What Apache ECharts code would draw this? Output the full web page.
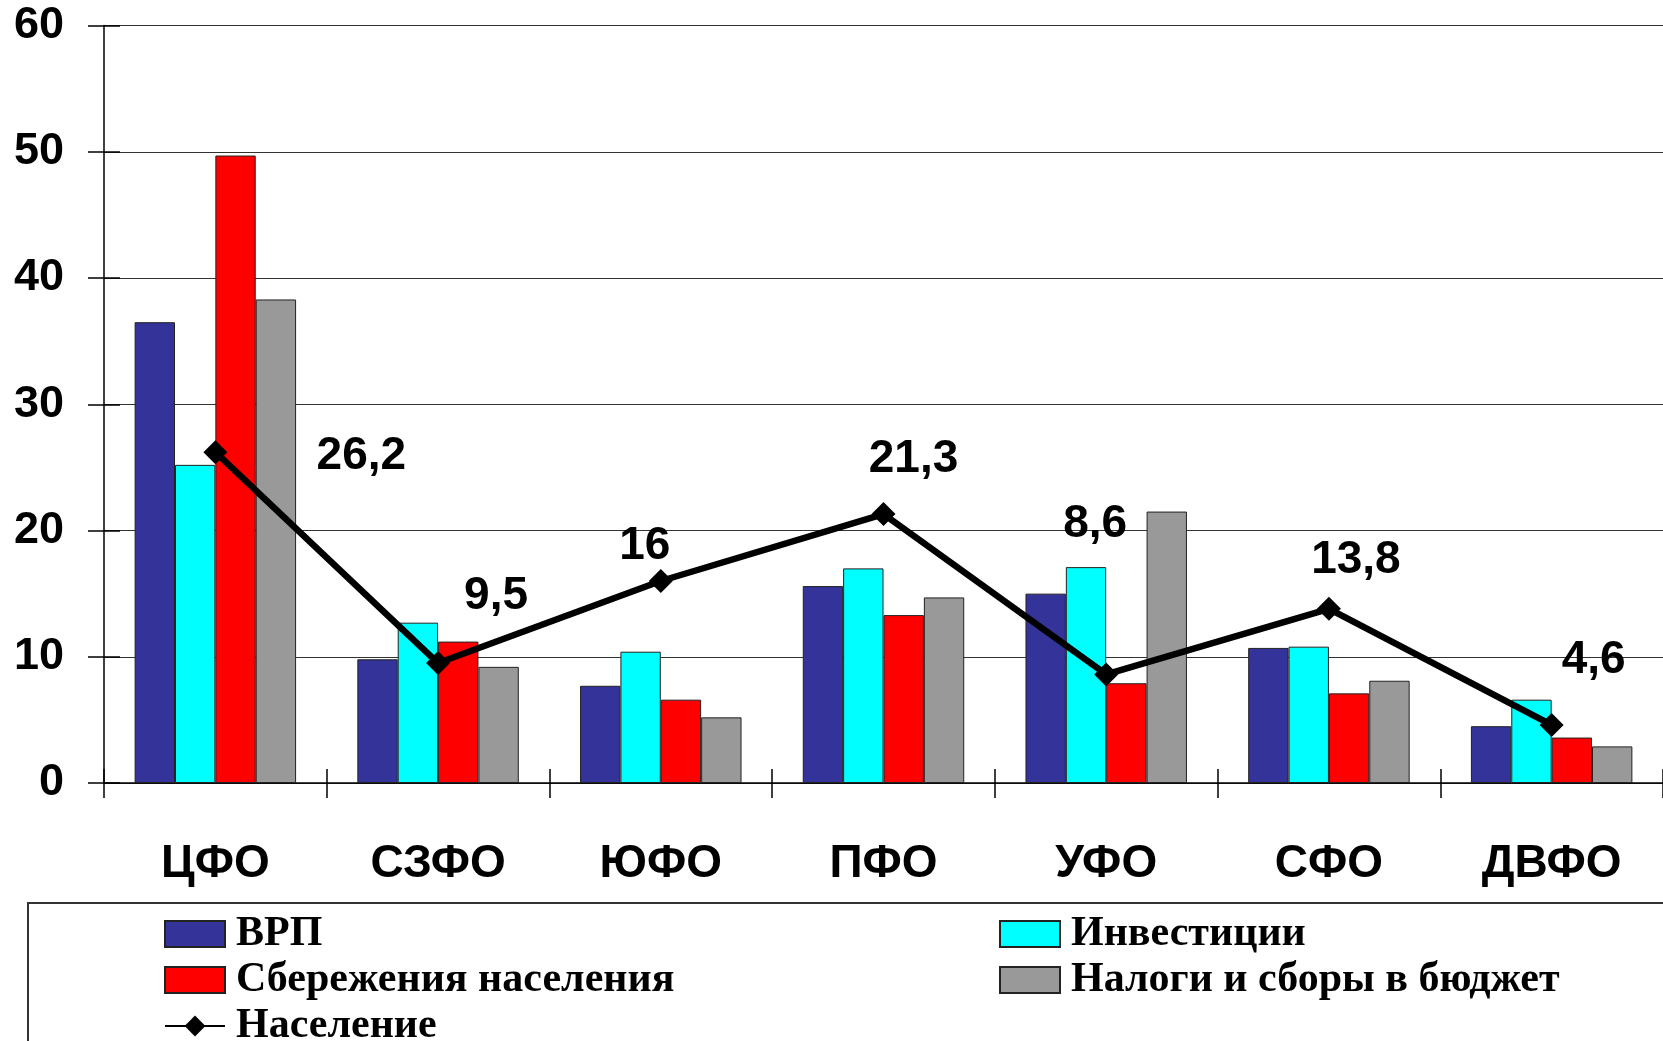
<!DOCTYPE html>
<html>
<head>
<meta charset="utf-8">
<script src="https://cdn.jsdelivr.net/npm/echarts@6/dist/echarts.min.js"></script>
<style>
  html, body { margin: 0; padding: 0; background: #fff; }
  #main { width: 1663px; height: 1041px; }
</style>
</head>
<body>
<div id="main"></div>
<script>
var districts = ['ЦФО', 'СЗФО', 'ЮФО', 'ПФО', 'УФО', 'СФО', 'ДВФО'];
var vrp = [36.5, 9.8, 7.7, 15.6, 15.0, 10.7, 4.5];
var invest = [25.2, 12.7, 10.4, 17.0, 17.1, 10.8, 6.6];
var savings = [49.7, 11.2, 6.6, 13.3, 7.9, 7.1, 3.6];
var taxes = [38.3, 9.2, 5.2, 14.7, 21.5, 8.1, 2.9];
var population = [26.2, 9.5, 16, 21.3, 8.6, 13.8, 4.6];
var yTicks = [0, 10, 20, 30, 40, 50, 60];

// where each population label sits relative to its point
var labelShift = [[146, 4], [58, -67], [-16, -35], [30, -55], [-11, -150], [27, -48], [42, -65]];

var dom = document.getElementById('main');
var myChart = echarts.init(dom);

var barBorder = { borderColor: '#222', borderWidth: 1 };

function barSeries(name, data, color) {
    return {
        name: name,
        type: 'bar',
        data: data,
        barGap: '0%',
        barCategoryGap: '27.5%',
        itemStyle: Object.assign({ color: color }, barBorder)
    };
}

var popData = population.map(function (v, i) {
    return {
        value: v,
        label: { offset: labelShift[i] }
    };
});

var legendText = {
    fontFamily: 'Liberation Serif',
    fontWeight: 'bold',
    fontSize: 42,
    lineHeight: 40,
    color: '#000',
    padding: [0, 0, 0, 6]
};

var option = {
    animation: false,
    backgroundColor: '#fff',
    grid: {
        left: 104,
        top: 25.5,
        width: 1568,
        height: 757.5
    },
    legend: [{
        orient: 'vertical',
        left: 164,
        top: 913,
        height: 300,
        padding: 0,
        itemWidth: 60,
        itemHeight: 26,
        itemGap: 4,
        data: [
            { name: 'ВРП', icon: 'rect' },
            { name: 'Сбережения населения', icon: 'rect' },
            'Население'
        ],
        textStyle: legendText
    }, {
        orient: 'vertical',
        left: 999,
        top: 913,
        height: 300,
        padding: 0,
        itemWidth: 60,
        itemHeight: 26,
        itemGap: 4,
        data: [
            { name: 'Инвестиции', icon: 'rect' },
            { name: 'Налоги и сборы в бюджет', icon: 'rect' }
        ],
        textStyle: legendText
    }],
    graphic: [{
        type: 'rect',
        shape: { x: 28, y: 903, width: 1700, height: 200 },
        style: { fill: 'none', stroke: '#333', lineWidth: 2 },
        silent: true
    }],
    xAxis: [{
        type: 'category',
        data: districts,
        axisLine: { lineStyle: { color: '#000', width: 1.5 } },
        axisTick: { show: true, length: 15, lineStyle: { color: '#000', width: 1.5 } },
        axisLabel: {
            margin: 58,
            fontFamily: 'Liberation Sans',
            fontWeight: 'bold',
            fontSize: 46,
            color: '#000'
        }
    }, {
        type: 'category',
        data: districts,
        position: 'bottom',
        axisLine: { show: false },
        axisTick: { show: true, inside: true, length: 14, lineStyle: { color: '#000', width: 1.5 } },
        axisLabel: { show: false }
    }],
    yAxis: [{
        type: 'value',
        min: yTicks[0],
        max: yTicks[yTicks.length - 1],
        interval: 10,
        axisLine: { show: true, lineStyle: { color: '#000', width: 1.5 } },
        axisTick: { show: true, length: 16, lineStyle: { color: '#000', width: 1.5 } },
        splitLine: { lineStyle: { color: '#333', width: 1.2 } },
        axisLabel: {
            margin: 40,
            fontFamily: 'Liberation Sans',
            fontWeight: 'bold',
            fontSize: 45,
            color: '#000'
        }
    }, {
        type: 'value',
        position: 'left',
        min: yTicks[0],
        max: yTicks[yTicks.length - 1],
        interval: 10,
        axisLine: { show: false },
        axisTick: { show: true, inside: true, length: 16, lineStyle: { color: '#000', width: 1.5 } },
        splitLine: { show: false },
        axisLabel: { show: false }
    }],
    series: [
        barSeries('ВРП', vrp, '#333399'),
        barSeries('Инвестиции', invest, '#00FFFF'),
        barSeries('Сбережения населения', savings, '#FF0000'),
        barSeries('Налоги и сборы в бюджет', taxes, '#999999'),
        {
            name: 'Население',
            type: 'line',
            data: popData,
            z: 5,
            symbol: 'diamond',
            symbolSize: 24,
            itemStyle: { color: '#000' },
            lineStyle: { color: '#000', width: 6.5 },
            label: {
                show: true,
                position: 'inside',
                align: 'center',
                verticalAlign: 'middle',
                fontFamily: 'Liberation Sans',
                fontWeight: 'bold',
                fontSize: 46,
                color: '#000',
                formatter: function (p) {
                    return String(p.value).replace('.', ',');
                }
            }
        }
    ]
};

myChart.setOption(option);
</script>
</body>
</html>
